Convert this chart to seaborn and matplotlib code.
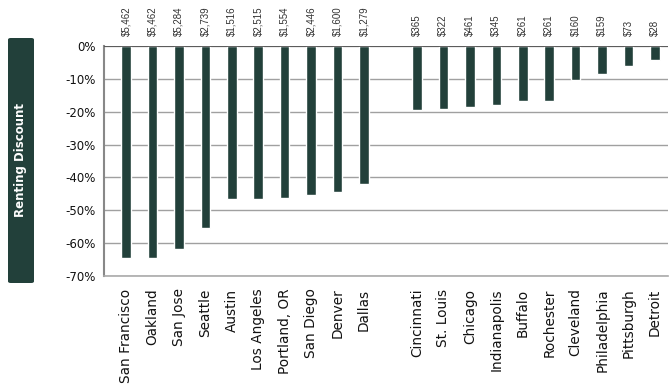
import pandas as pd
import matplotlib.pyplot as plt
import seaborn as sns
from matplotlib.patches import FancyBboxPatch

# data
west = ['San Francisco', 'Oakland', 'San Jose', 'Seattle', 'Austin', 'Los Angeles',
        'Portland, OR', 'San Diego', 'Denver', 'Dallas']
east = ['Cincinnati', 'St. Louis', 'Chicago', 'Indianapolis', 'Buffalo', 'Rochester',
        'Cleveland', 'Philadelphia', 'Pittsburgh', 'Detroit']
west_discount = [-64.4, -64.4, -61.9, -55.5, -46.5, -46.5, -46.2, -45.3, -44.3, -42.0]
east_discount = [-19.5, -19.1, -18.5, -17.9, -16.7, -16.7, -10.4, -8.5, -6.1, -4.2]
west_gap = [5462, 5462, 5284, 2739, 1516, 2515, 1554, 2446, 1600, 1279]
east_gap = [365, 322, 461, 345, 261, 261, 160, 159, 73, 28]

bar_color = '#22403a'

sns.set_style('white')
plt.rcParams['font.family'] = ['DejaVu Sans']

cities = west + east
order = west + [''] + east
df = pd.DataFrame({'city': cities, 'discount': west_discount + east_discount})

fig = plt.figure(figsize=(6.71, 3.9), dpi=100)
ax = fig.add_axes([104 / 671, 1 - 276 / 390, (668 - 104) / 671, (276 - 46) / 390])

sns.barplot(data=df, x='city', y='discount', order=order, color=bar_color,
            saturation=1, width=0.36, ax=ax)

ax.set_xlim(-0.83, 20.49)
ax.set_ylim(-70, 0)
ax.set_yticks(range(-70, 1, 10))
ax.set_yticklabels([f'{v}%' for v in range(-70, 1, 10)], fontsize=8.5, color='#111')
ax.set_xlabel('')
ax.set_ylabel('')
ax.tick_params(axis='x', length=0, pad=9, labelsize=9.8, labelcolor='#111', rotation=90)
ax.tick_params(axis='y', length=0, pad=6)

ax.set_axisbelow(True)
ax.yaxis.grid(True, color='#a0a0a0', lw=1)
ax.axhline(0, color='#555555', lw=1.3, zorder=3)
for s in ['top', 'right']:
    ax.spines[s].set_visible(False)
ax.spines['left'].set_color('#888888')
ax.spines['left'].set_linewidth(1.5)
ax.spines['bottom'].set_color('#aaaaaa')
ax.spines['bottom'].set_linewidth(1.2)

# rent gap labels above the plot
for city, gap in zip(cities, west_gap + east_gap):
    ax.annotate(f'${gap:,}', xy=(order.index(city), 1), xycoords=('data', 'axes fraction'),
                xytext=(0, 7), textcoords='offset points', rotation=90,
                ha='center', va='bottom', fontsize=7, color='#333333',
                family='Liberation Sans')

# y label in a dark box
box = FancyBboxPatch((8 / 671, 1 - 283 / 390), 26 / 671, 245 / 390,
                     boxstyle='round,pad=0,rounding_size=0.004',
                     transform=fig.transFigure, facecolor=bar_color, edgecolor='none')
fig.add_artist(box)
fig.text(21 / 671, 1 - 160 / 390, 'Renting Discount', rotation=90, color='white',
         fontweight='bold', fontsize=8.5, ha='center', va='center')

fig.savefig('out.png', dpi=100)
